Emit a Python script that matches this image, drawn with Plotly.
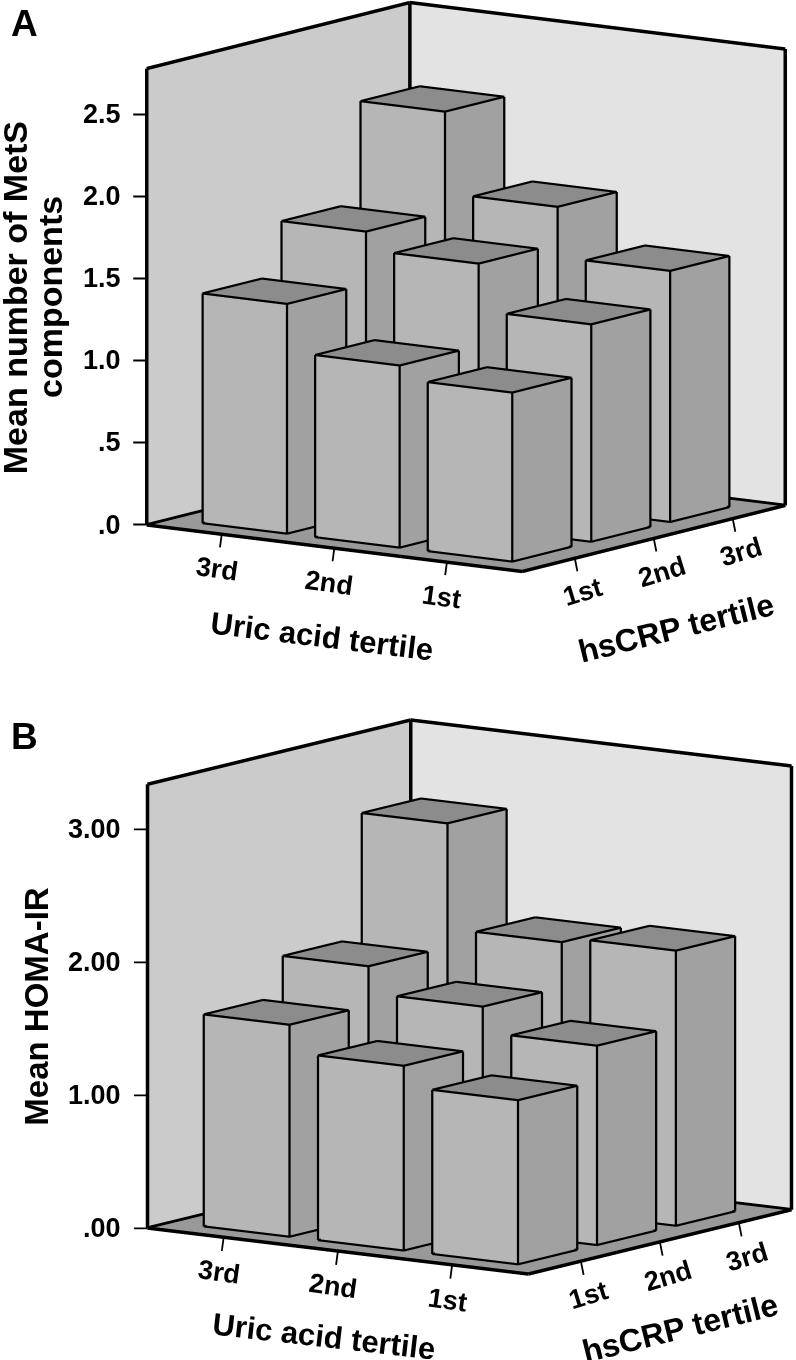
import math
import plotly.graph_objects as go

W, H = 796, 1360

uric_labels = ["3rd", "2nd", "1st"]
crp_labels = ["1st", "2nd", "3rd"]

# rows: hsCRP 1st, 2nd, 3rd; columns: uric acid 3rd, 2nd, 1st
mets_values = [
    [1.40, 1.11, 1.03],
    [1.72, 1.61, 1.325],
    [2.33, 1.835, 1.53],
]
homa_values = [
    [1.595, 1.39, 1.235],
    [1.89, 1.69, 1.50],
    [2.82, 2.03, 2.07],
]
mets_ticks = [0, 0.5, 1.0, 1.5, 2.0, 2.5]
mets_ticktext = [".0", ".5", "1.0", "1.5", "2.0", "2.5"]
homa_ticks = [0, 1, 2, 3]
homa_ticktext = [".00", "1.00", "2.00", "3.00"]

FONT = "Liberation Sans"
C_LEFT, C_RIGHT, C_FLOOR = "#cbcbcb", "#e3e3e3", "#999999"
C_FRONT, C_SIDE, C_TOP = "#b6b6b6", "#a1a1a1", "#8c8c8c"
HALF = 0.375
LO, HI = -2 / 3, 2 + 2 / 3
PAD = 0.05
FLAT = dict(ambient=1, diffuse=0, specular=0, fresnel=0, roughness=1)
ZOOM = 3.0
NUDGE = 0.02

fig = go.Figure()
annotations = []


def wall(scene, xs, ys, zs, color):
    fig.add_trace(go.Mesh3d(x=xs, y=ys, z=zs, i=[0, 0], j=[1, 2], k=[2, 3], color=color,
                            flatshading=True, lighting=FLAT, hoverinfo="skip", scene=scene))


def lines(scene, segs, width, off):
    xs, ys, zs = [], [], []
    for a, b in segs:
        xs += [a[0] + off[0], b[0] + off[0], None]
        ys += [a[1] + off[1], b[1] + off[1], None]
        zs += [a[2] + off[2], b[2] + off[2], None]
    fig.add_trace(go.Scatter3d(x=xs, y=ys, z=zs, mode="lines",
                               line=dict(color="black", width=width),
                               hoverinfo="skip", showlegend=False, scene=scene))


def bar(scene, ix, iy, v):
    x0, x1, y0, y1 = ix - HALF, ix + HALF, iy - HALF, iy + HALF
    xs = [x0, x1, x1, x0, x0, x1, x1, x0]
    ys = [y0, y0, y1, y1, y0, y0, y1, y1]
    zs = [0, 0, 0, 0, v, v, v, v]
    i = [0, 0, 1, 1, 4, 4, 2, 2, 3, 3]
    j = [1, 5, 2, 6, 5, 6, 3, 7, 0, 4]
    k = [5, 4, 6, 5, 6, 7, 7, 6, 4, 7]
    fc = [C_FRONT, C_FRONT, C_SIDE, C_SIDE, C_TOP, C_TOP, C_FRONT, C_FRONT, C_SIDE, C_SIDE]
    fig.add_trace(go.Mesh3d(x=xs, y=ys, z=zs, i=i, j=j, k=k, facecolor=fc, flatshading=True,
                            lighting=FLAT, hoverinfo="skip", scene=scene))
    p = [(xs[n], ys[n], zs[n]) for n in range(8)]
    return [(p[a], p[b]) for a, b in [(0, 1), (1, 2), (2, 3), (3, 0), (4, 5), (5, 6), (6, 7), (7, 4),
                                      (0, 4), (1, 5), (2, 6), (3, 7)]]


def panel(scene, values, ticks, ticktext, origin, ax, ay, hz, unit):
    ztop = hz / unit

    # axonometric camera derived from the projected axis directions
    sx, sy = ax[1] / ax[0], -ay[1] / ay[0]
    sin_e = math.sqrt(sx * sy)
    cos_e = math.sqrt(1 - sin_e ** 2)
    th = math.atan(math.sqrt(sx / sy))
    Lx = ax[0] / math.cos(th)
    Ly = ay[0] / math.sin(th)
    Lz = hz / cos_e
    d = (math.sin(th) * cos_e, -math.cos(th) * cos_e, sin_e)
    cx = origin[0] + (ax[0] + ay[0]) / 2
    cy = origin[1] + (ax[1] + ay[1]) / 2 - hz / 2
    halfw = min(cx, W - cx)
    halfh = min(cy, 1360 - cy) if scene == "scene" else 997.15 - 700
    ref = halfh
    # scene units per data unit, used to lift the edge lines toward the camera
    kx = Lx / ref / (HI - LO)
    ky = Ly / ref / (HI - LO)
    kz = Lz / ref / ztop
    off = (NUDGE * d[0] / kx, NUDGE * d[1] / ky, NUDGE * d[2] / kz)

    # walls and floor
    wall(scene, [LO, LO, LO, LO], [LO, HI, HI, LO], [0, 0, ztop, ztop], C_LEFT)
    wall(scene, [LO, HI, HI, LO], [HI, HI, HI, HI], [0, 0, ztop, ztop], C_RIGHT)
    wall(scene, [LO, HI, HI, LO], [LO, LO, HI, HI], [0, 0, 0, 0], C_FLOOR)
    frame = [((LO, LO, 0), (HI, LO, 0)), ((HI, LO, 0), (HI, HI, 0)), ((HI, HI, 0), (LO, HI, 0)),
             ((LO, HI, 0), (LO, LO, 0)), ((LO, LO, 0), (LO, LO, ztop)), ((LO, HI, 0), (LO, HI, ztop)),
             ((HI, HI, 0), (HI, HI, ztop)), ((LO, LO, ztop), (LO, HI, ztop)), ((LO, HI, ztop), (HI, HI, ztop))]
    lines(scene, frame, 7, off)
    segs = []
    for iy, row in enumerate(values):
        for ix, v in enumerate(row):
            segs += bar(scene, ix, iy, v)
    lines(scene, segs, 4.5, off)

    scene_annos = []
    tick = dict(showarrow=True, arrowhead=0, arrowwidth=1.8, arrowcolor="black", text="")
    lab = dict(showarrow=False, font=dict(family=FONT, size=27, color="black", weight=700))
    for t, txt in zip(ticks, ticktext):
        scene_annos.append(dict(x=LO, y=LO, z=t, ax=-15, ay=0, **tick))
        scene_annos.append(dict(x=LO, y=LO, z=t, text=txt, xanchor="right", xshift=-24, **lab))
    for ix, txt in enumerate(uric_labels):
        scene_annos.append(dict(x=ix, y=LO, z=0, ax=-2, ay=15, **tick))
        scene_annos.append(dict(x=ix, y=LO, z=0, text=txt, textangle=8, xshift=-5, yshift=-35, **lab))
    for iy, txt in enumerate(crp_labels):
        scene_annos.append(dict(x=HI, y=iy, z=0, ax=3, ay=15, **tick))
        scene_annos.append(dict(x=HI, y=iy, z=0, text=txt, textangle=-17, xshift=8, yshift=-34, **lab))

    pad_x = PAD * (HI - LO)
    fig.layout[scene] = dict(
        domain=dict(x=[(cx - halfw) / W, (cx + halfw) / W],
                    y=[1 - (cy + halfh) / H, 1 - (cy - halfh) / H]),
        aspectmode="manual",
        aspectratio=dict(x=Lx / ref * (1 + 2 * PAD), y=Ly / ref * (1 + 2 * PAD), z=Lz / ref * (1 + 2 * PAD)),
        camera=dict(eye=dict(x=d[0] * ZOOM, y=d[1] * ZOOM, z=d[2] * ZOOM), center=dict(x=0, y=0, z=0),
                    up=dict(x=0, y=0, z=1), projection=dict(type="orthographic")),
        xaxis=dict(visible=False, range=[LO - pad_x, HI + pad_x]),
        yaxis=dict(visible=False, range=[LO - pad_x, HI + pad_x]),
        zaxis=dict(visible=False, range=[-PAD * ztop, ztop * (1 + PAD)]),
        bgcolor="white",
        annotations=scene_annos,
    )


panel("scene", mets_values, mets_ticks, mets_ticktext, (147, 524.5), (375, 46.5), (263, -66), 456, 164)
panel("scene2", homa_values, homa_ticks, homa_ticktext, (147.3, 1228.3), (381, 46), (263.4, -64.3), 444, 133)


def text(s, px, py, size, angle=0):
    annotations.append(dict(text=s, x=px / W, y=1 - py / H, xref="paper", yref="paper", showarrow=False,
                            textangle=angle, xanchor="center", yanchor="middle",
                            font=dict(family=FONT, size=size, color="black", weight=700)))


text("A", 24, 23, 37)
text("B", 24.5, 736, 37)
text("Mean number of MetS", 14.7, 297.5, 34, -90)
text("components", 50, 297, 34, -90)
text("Mean HOMA-IR", 35.7, 1006, 33, -90)
text("Uric acid tertile", 322, 636, 31, 7)
text("hsCRP tertile", 676, 628, 32, -14)
text("Uric acid tertile", 324, 1336, 31, 6.5)
text("hsCRP tertile", 680, 1328, 32, -14)

fig.update_layout(width=W, height=H, margin=dict(l=0, r=0, t=0, b=0), autosize=False,
                  paper_bgcolor="white", showlegend=False, annotations=annotations)
fig.write_html("out.html", post_script="document.body.style.margin='0';", config=dict(displayModeBar=False))
